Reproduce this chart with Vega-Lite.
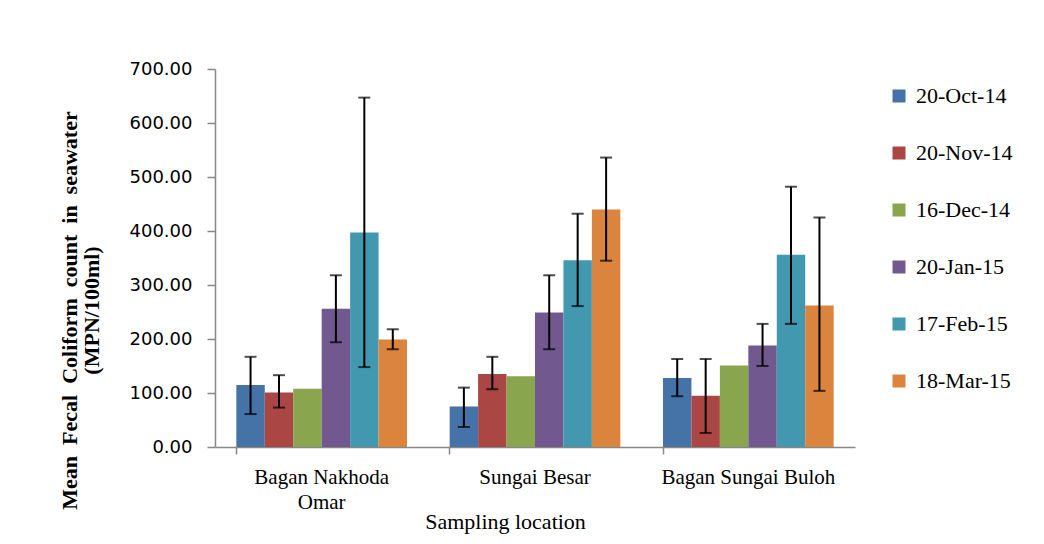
{
  "$schema": "https://vega.github.io/schema/vega-lite/v6.json",
  "autosize": {"type": "none"},
  "padding": {"left": 215, "top": 69, "right": 189, "bottom": 97},
  "width": 640,
  "height": 378,
  "background": "white",
  "config": {
    "view": {"stroke": null},
    "axis": {"grid": false, "domainColor": "#878787", "tickColor": "#878787", "domainWidth": 1.5, "tickWidth": 1.5, "labelColor": "#000000", "titleColor": "#000000"}
  },
  "data": {
    "values": [
      {"loc": "Bagan Nakhoda Omar", "date": "20-Oct-14", "mean": 115, "lo": 61, "hi": 167},
      {"loc": "Bagan Nakhoda Omar", "date": "20-Nov-14", "mean": 101, "lo": 73, "hi": 133},
      {"loc": "Bagan Nakhoda Omar", "date": "16-Dec-14", "mean": 108, "lo": null, "hi": null},
      {"loc": "Bagan Nakhoda Omar", "date": "20-Jan-15", "mean": 256, "lo": 194, "hi": 318},
      {"loc": "Bagan Nakhoda Omar", "date": "17-Feb-15", "mean": 397, "lo": 148, "hi": 647},
      {"loc": "Bagan Nakhoda Omar", "date": "18-Mar-15", "mean": 199, "lo": 181, "hi": 218},
      {"loc": "Sungai Besar", "date": "20-Oct-14", "mean": 75, "lo": 37, "hi": 110},
      {"loc": "Sungai Besar", "date": "20-Nov-14", "mean": 135, "lo": 107, "hi": 167},
      {"loc": "Sungai Besar", "date": "16-Dec-14", "mean": 131, "lo": null, "hi": null},
      {"loc": "Sungai Besar", "date": "20-Jan-15", "mean": 249, "lo": 181, "hi": 318},
      {"loc": "Sungai Besar", "date": "17-Feb-15", "mean": 346, "lo": 261, "hi": 432},
      {"loc": "Sungai Besar", "date": "18-Mar-15", "mean": 440, "lo": 345, "hi": 536},
      {"loc": "Bagan Sungai Buloh", "date": "20-Oct-14", "mean": 128, "lo": 94, "hi": 163},
      {"loc": "Bagan Sungai Buloh", "date": "20-Nov-14", "mean": 95, "lo": 26, "hi": 163},
      {"loc": "Bagan Sungai Buloh", "date": "16-Dec-14", "mean": 151, "lo": null, "hi": null},
      {"loc": "Bagan Sungai Buloh", "date": "20-Jan-15", "mean": 188, "lo": 150, "hi": 228},
      {"loc": "Bagan Sungai Buloh", "date": "17-Feb-15", "mean": 356, "lo": 228, "hi": 482},
      {"loc": "Bagan Sungai Buloh", "date": "18-Mar-15", "mean": 262, "lo": 104, "hi": 425}
    ]
  },
  "encoding": {
    "x": {
      "field": "loc", "type": "nominal", "sort": null,
      "scale": {"paddingInner": 0.2, "paddingOuter": 0.1},
      "axis": {
        "title": "Sampling location",
        "labelAngle": 0,
        "labelExpr": "datum.value == 'Bagan Nakhoda Omar' ? ['Bagan Nakhoda', 'Omar'] : datum.value",
        "labelFont": "Liberation Serif", "labelFontSize": 21, "labelLineHeight": 25,
        "labelPadding": 12, "tickSize": 7, "bandPosition": 0,
        "titleFont": "Liberation Serif", "titleFontSize": 22, "titleFontWeight": "normal",
        "titleX": 290, "titleY": 74, "titleBaseline": "middle"
      }
    },
    "xOffset": {"field": "date", "type": "nominal", "sort": ["20-Oct-14", "20-Nov-14", "16-Dec-14", "20-Jan-15", "17-Feb-15", "18-Mar-15"], "scale": {"paddingInner": 0, "paddingOuter": 0}}
  },
  "layer": [
    {
      "mark": {"type": "bar"},
      "encoding": {
        "y": {
          "field": "mean", "type": "quantitative",
          "scale": {"domain": [0, 700], "nice": false},
          "axis": {
            "values": [0, 100, 200, 300, 400, 500, 600, 700],
            "format": ".2f",
            "labelFont": "DejaVu Sans", "labelFontSize": 18, "labelPadding": 15, "tickSize": 8,
            "title": ["Mean\u00a0 Fecal\u00a0 Coliform\u00a0 count\u00a0 in\u00a0 seawater", "(MPN/100ml)"],
            "titleFont": "Liberation Serif", "titleFontSize": 22, "titleFontWeight": "bold", "titleLineHeight": 22,
            "titleY": 241, "titlePadding": 26
          }
        },
        "color": {
          "field": "date", "type": "nominal",
          "sort": ["20-Oct-14", "20-Nov-14", "16-Dec-14", "20-Jan-15", "17-Feb-15", "18-Mar-15"],
          "scale": {
            "domain": ["20-Oct-14", "20-Nov-14", "16-Dec-14", "20-Jan-15", "17-Feb-15", "18-Mar-15"],
            "range": ["#4572A7", "#AA4643", "#89A54E", "#71588F", "#4198AF", "#DB843D"]
          },
          "legend": {
            "title": null, "orient": "right", "offset": 17, "padding": 16,
            "symbolType": "square", "symbolSize": 169, "symbolStrokeWidth": 0,
            "labelFont": "Liberation Serif", "labelFontSize": 22, "labelOffset": 6,
            "rowPadding": 35, "labelColor": "#000000"
          }
        }
      }
    },
    {
      "transform": [{"filter": "datum.lo != null"}],
      "mark": {"type": "rule", "color": "#000000", "strokeWidth": 2},
      "encoding": {
        "y": {"field": "lo", "type": "quantitative"},
        "y2": {"field": "hi"}
      }
    },
    {
      "transform": [{"filter": "datum.lo != null"}],
      "mark": {"type": "tick", "color": "#000000", "thickness": 2, "size": 12, "orient": "horizontal"},
      "encoding": {
        "y": {"field": "lo", "type": "quantitative"}
      }
    },
    {
      "transform": [{"filter": "datum.hi != null"}],
      "mark": {"type": "tick", "color": "#000000", "thickness": 2, "size": 12, "orient": "horizontal"},
      "encoding": {
        "y": {"field": "hi", "type": "quantitative"}
      }
    }
  ]
}
